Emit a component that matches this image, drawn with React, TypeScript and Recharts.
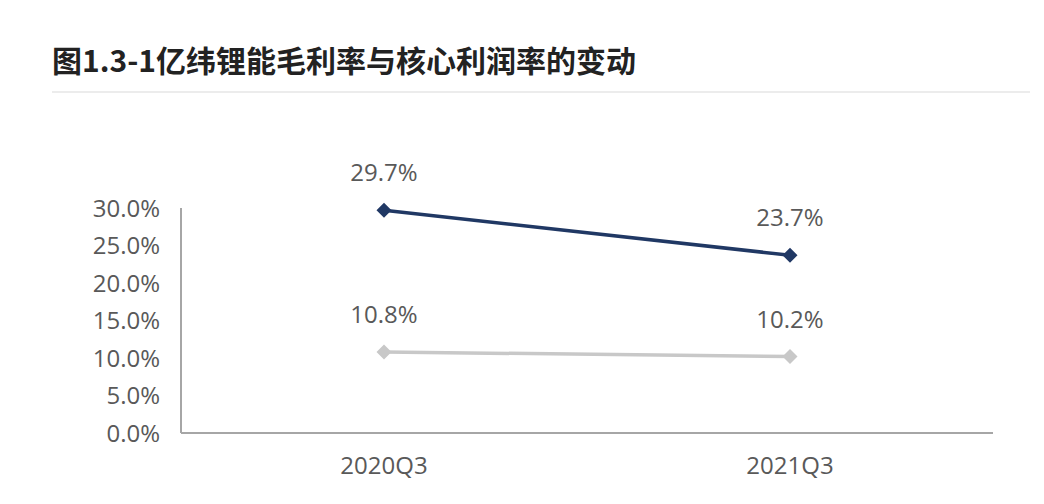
import React from 'react';
import { LineChart, Line, XAxis, YAxis, LabelList } from 'recharts';

const categories = ['2020Q3', '2021Q3'];
const grossMargin = [29.7, 23.7];
const coreProfitMargin = [10.8, 10.2];
const yTicks = [0, 5, 10, 15, 20, 25, 30];

const data = categories.map((c, i) => ({ name: c, gross: grossMargin[i], core: coreProfitMargin[i] }));

const FONT = '"Open Sans", "Noto Sans", "Noto Sans CJK SC", sans-serif';

const Diamond = (color: string) => (props: any) => {
  const { cx, cy } = props;
  if (cx == null || cy == null) return null;
  const r = 7.5;
  return (
    <polygon
      key={`d-${cx}-${cy}`}
      points={`${cx},${cy - r} ${cx + r},${cy} ${cx},${cy + r} ${cx - r},${cy}`}
      fill={color}
    />
  );
};

export default function App() {
  return (
    <div style={{ position: 'absolute', left: 0, top: 0, width: 1044, height: 504, background: '#fff' }}>
      <div
        style={{
          position: 'absolute',
          left: 52,
          top: 38,
          fontFamily: '"Noto Sans CJK SC", sans-serif',
          fontWeight: 700,
          fontSize: 30,
          color: '#222',
          whiteSpace: 'nowrap',
          lineHeight: '42px',
        }}
      >
        图1.3-1亿纬锂能毛利率与核心利润率的变动
      </div>
      <div style={{ position: 'absolute', left: 52, top: 91, width: 978, height: 2, background: '#ececec' }} />
      <div style={{ position: 'absolute', left: 0, top: 0 }}>
        <LineChart
          width={1044}
          height={504}
          data={data}
          margin={{ top: 208, right: 51, bottom: 41, left: 0 }}
        >
          <XAxis
            dataKey="name"
            padding={{ left: 203, right: 203 }}
            axisLine={{ stroke: '#a6a6a6', strokeWidth: 2 }}
            tickLine={false}
            tickSize={0}
            tickMargin={24}
            height={30}
            tick={{ fill: '#595959', fontSize: 24, fontFamily: FONT }}
          />
          <YAxis
            domain={[0, 30]}
            ticks={yTicks}
            width={181}
            axisLine={{ stroke: '#a6a6a6', strokeWidth: 2 }}
            tickLine={false}
            tickSize={0}
            tickMargin={21}
            tickFormatter={(v: number) => `${v.toFixed(1)}%`}
            tick={{ fill: '#595959', fontSize: 24, fontFamily: FONT }}
          />
          <Line
            dataKey="core"
            stroke="#c8c8c8"
            strokeWidth={3.5}
            isAnimationActive={false}
            dot={Diamond('#c8c8c8')}
            activeDot={false}
          >
            <LabelList
              dataKey="core"
              position="top"
              offset={29}
              formatter={(v: number) => `${v.toFixed(1)}%`}
              style={{ fill: '#595959', fontSize: 24, fontFamily: FONT }}
            />
          </Line>
          <Line
            dataKey="gross"
            stroke="#203864"
            strokeWidth={3.5}
            isAnimationActive={false}
            dot={Diamond('#203864')}
            activeDot={false}
          >
            <LabelList
              dataKey="gross"
              position="top"
              offset={29}
              formatter={(v: number) => `${v.toFixed(1)}%`}
              style={{ fill: '#595959', fontSize: 24, fontFamily: FONT }}
            />
          </Line>
        </LineChart>
      </div>
    </div>
  );
}
